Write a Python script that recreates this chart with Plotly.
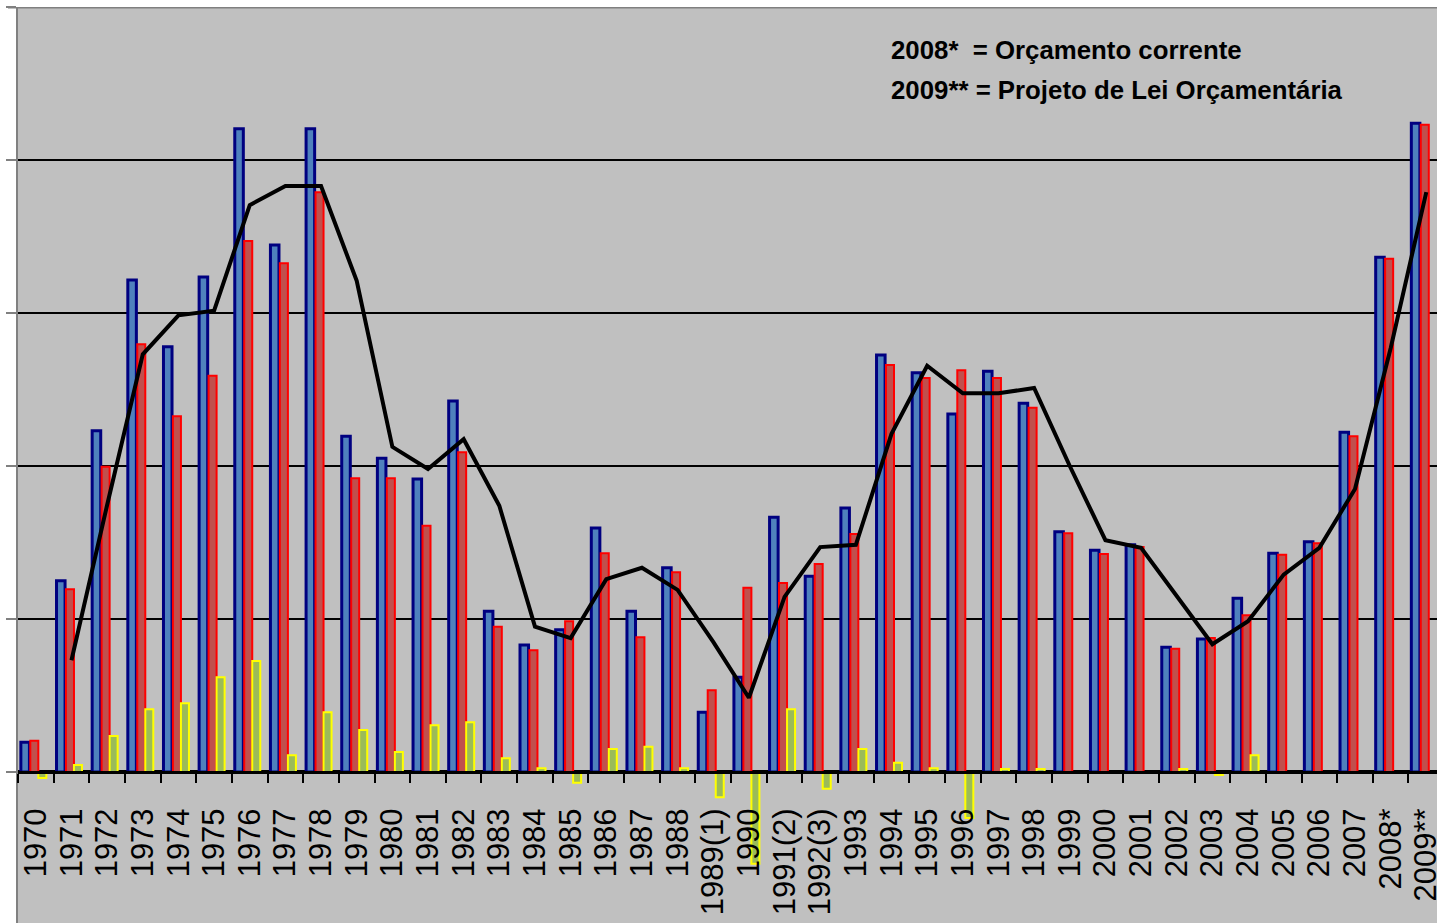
import plotly.graph_objects as go

categories = ["1970", "1971", "1972", "1973", "1974", "1975", "1976", "1977", "1978", "1979",
              "1980", "1981", "1982", "1983", "1984", "1985", "1986", "1987", "1988", "1989(1)",
              "1990", "1991(2)", "1992(3)", "1993", "1994", "1995", "1996", "1997", "1998", "1999",
              "2000", "2001", "2002", "2003", "2004", "2005", "2006", "2007", "2008*", "2009**"]

serie_azul = [0.39, 2.50, 4.46, 6.43, 5.56, 6.47, 8.41, 6.89, 8.41, 4.39,
              4.10, 3.83, 4.85, 2.10, 1.66, 1.86, 3.19, 2.10, 2.67, 0.78,
              1.24, 3.33, 2.56, 3.45, 5.45, 5.22, 4.68, 5.24, 4.82, 3.14,
              2.90, 2.97, 1.63, 1.74, 2.27, 2.86, 3.01, 4.44, 6.73, 8.48]

serie_vermelha = [0.41, 2.39, 3.99, 5.59, 4.65, 5.18, 6.94, 6.65, 7.58, 3.84,
                  3.84, 3.22, 4.18, 1.90, 1.59, 1.97, 2.86, 1.76, 2.61, 1.07,
                  2.41, 2.47, 2.72, 3.11, 5.32, 5.15, 5.25, 5.15, 4.76, 3.12,
                  2.85, 2.94, 1.61, 1.75, 2.05, 2.84, 2.99, 4.39, 6.71, 8.46]

serie_amarela = [-0.08, 0.09, 0.47, 0.82, 0.90, 1.24, 1.45, 0.22, 0.78, 0.55,
                 0.26, 0.61, 0.65, 0.18, 0.05, -0.14, 0.30, 0.33, 0.05, -0.33,
                 -1.20, 0.82, -0.22, 0.30, 0.12, 0.05, -0.60, 0.04, 0.04, None,
                 None, None, 0.04, -0.04, 0.22, None, None, None, None, None]

linha = [None, 1.46, 3.49, 5.46, 5.97, 6.03, 7.41, 7.66, 7.66, 6.42,
         4.25, 3.96, 4.35, 3.48, 1.90, 1.75, 2.52, 2.67, 2.38, 1.70,
         0.97, 2.29, 2.94, 2.97, 4.42, 5.31, 4.95, 4.95, 5.02, 4.00,
         3.03, 2.93, 2.31, 1.67, 1.97, 2.58, 2.93, 3.70, 5.54, 7.58]

nota_1 = "2008*  = Orçamento corrente"
nota_2 = "2009** = Projeto de Lei Orçamentária"

W, H = 1437, 923
Y_MIN, Y_MAX = -1.974, 10

fig = go.Figure()
fig.add_trace(go.Bar(x=categories, y=serie_azul, offset=-0.42, width=0.24,
                     marker=dict(color="#4F81BD", line=dict(color="#000080", width=3)),
                     showlegend=False))
fig.add_trace(go.Bar(x=categories, y=serie_vermelha, offset=-0.155, width=0.225,
                     marker=dict(color="#C0504D", line=dict(color="#FF0000", width=2)),
                     showlegend=False))
fig.add_trace(go.Bar(x=categories, y=serie_amarela, offset=0.07, width=0.225,
                     marker=dict(color="#9BBB59", line=dict(color="#FFFF00", width=2)),
                     showlegend=False))
fig.add_trace(go.Scatter(x=categories, y=linha, mode="lines",
                         line=dict(color="black", width=4),
                         connectgaps=False, showlegend=False))

fig.update_layout(
    width=W, height=H,
    margin=dict(l=18, r=0, t=7, b=0, pad=0),
    paper_bgcolor="white",
    plot_bgcolor="#C0C0C0",
    barmode="overlay",
    font=dict(family="Liberation Sans, Arial, sans-serif", color="black"),
    xaxis=dict(
        type="category", range=[-0.5, 39.3],
        tickmode="array", tickvals=categories, ticktext=categories,
        anchor="free", position=(0 - Y_MIN) / (Y_MAX - Y_MIN),
        showline=True, linecolor="black", linewidth=3,
        ticks="outside", tickson="boundaries", ticklen=9, tickwidth=2, tickcolor="black",
        tickangle=-90, tickfont=dict(size=31, color="black"),
        ticklabelstandoff=22,
        showgrid=False, automargin=False,
    ),
    yaxis=dict(
        range=[Y_MIN, Y_MAX], tickvals=[0, 2, 4, 6, 8, 10],
        showticklabels=False,
        showgrid=True, gridcolor="black", gridwidth=2,
        zeroline=True, zerolinecolor="black", zerolinewidth=3,
        showline=True, linecolor="#808080", linewidth=2,
        ticks="outside", ticklen=10, tickwidth=2, tickcolor="#808080",
        automargin=False,
    ),
    shapes=[dict(type="line", xref="paper", yref="y", x0=-10 / 1419, x1=1, y0=Y_MAX, y1=Y_MAX,
                 line=dict(color="#808080", width=3), layer="above")],
    annotations=[
        dict(text="<b>" + nota_1 + "</b>", xref="paper", yref="paper",
             x=(889 - 18) / 1419, y=1 - (50 - 7) / 916, xanchor="left", yanchor="middle",
             showarrow=False, font=dict(size=25.8, color="black")),
        dict(text="<b>" + nota_2 + "</b>", xref="paper", yref="paper",
             x=(889 - 18) / 1419, y=1 - (90 - 7) / 916, xanchor="left", yanchor="middle",
             showarrow=False, font=dict(size=25.8, color="black")),
    ],
)

fig.write_html("out.html", config={"displayModeBar": False},
               post_script="document.body.style.margin='0';")
